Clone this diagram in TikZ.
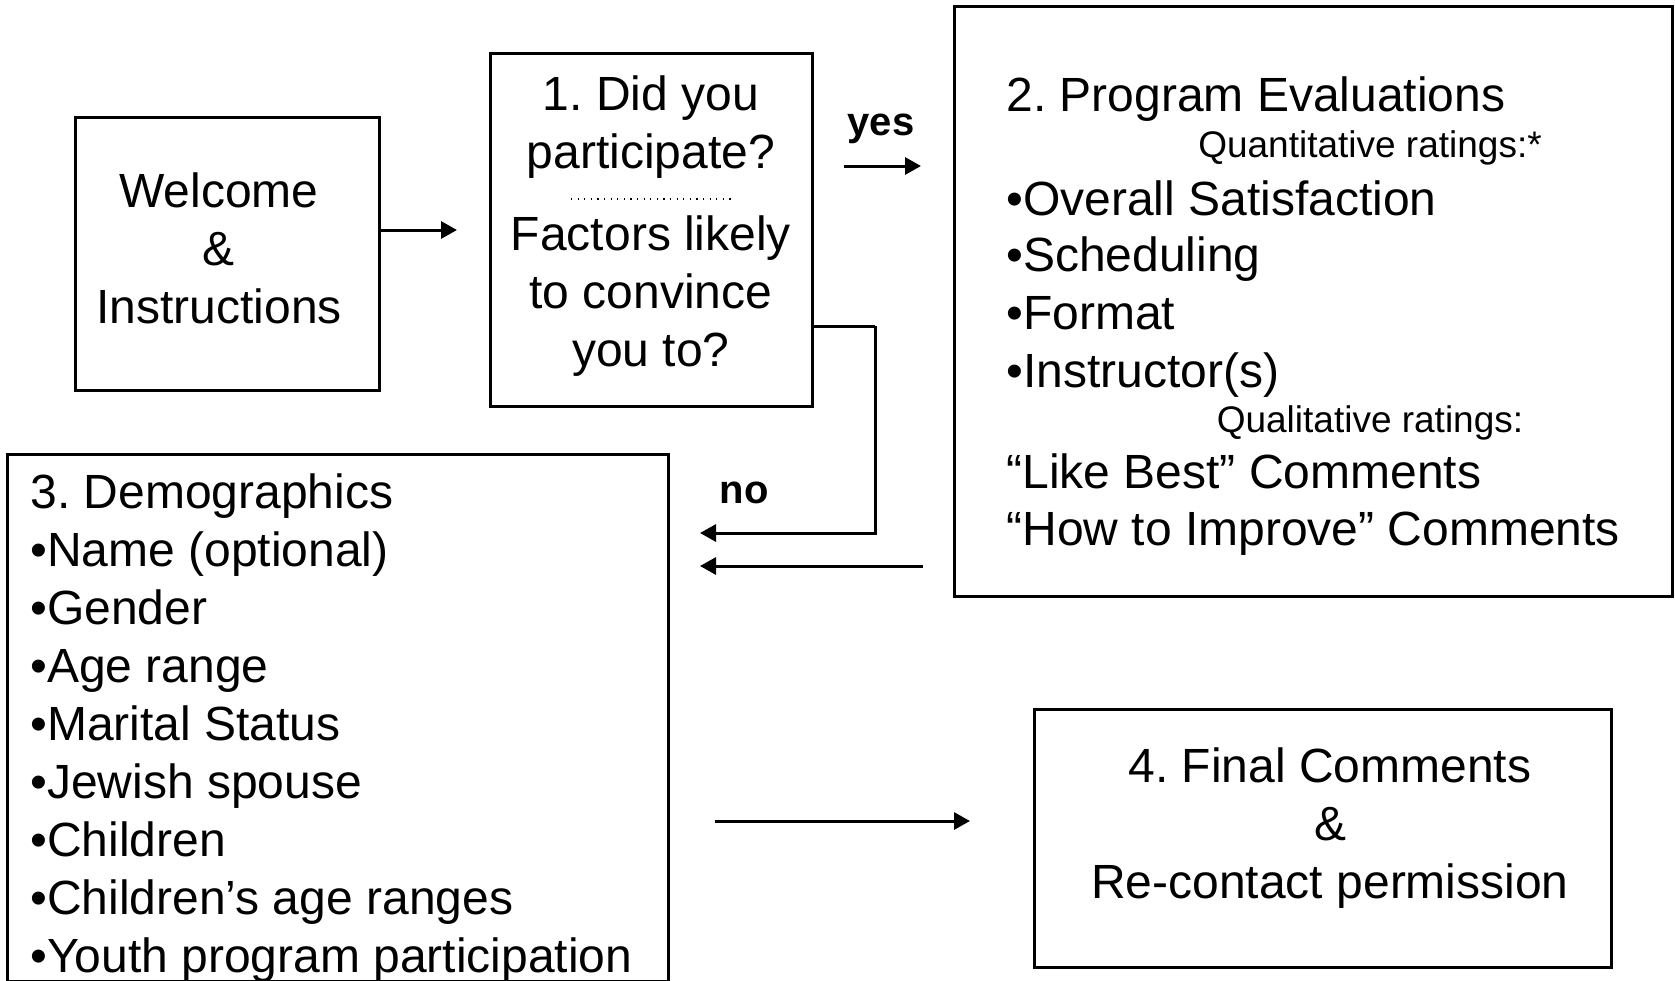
\documentclass[tikz,border=0pt]{standalone}
\usepackage{fontspec}
\setmainfont{Liberation Sans}
\usetikzlibrary{arrows.meta}
\frenchspacing

\begin{document}
\begin{tikzpicture}[x=0.5pt,y=-0.5pt,
  box/.style={draw,line width=1.5pt,inner sep=0pt},
  txt/.style={font=\fontsize{24}{29}\selectfont,inner sep=0pt},
  subtxt/.style={font=\fontsize{18.5}{22}\selectfont,inner sep=0pt},
  lbl/.style={font=\fontsize{20}{24}\selectfont\bfseries,inner sep=0pt},
  arr/.style={line width=1.5pt,-{Triangle[length=8pt,width=8.5pt]}}]
  \useasboundingbox (0,0) rectangle (1675,980);

  % Boxes
  \node[box,minimum width=152pt,minimum height=136.5pt] (welcome) at (227,253.5) {};
  \node[box,minimum width=161pt,minimum height=176.5pt] (q1) at (651,229.5) {};
  \node[box,minimum width=359pt,minimum height=295pt] (eval) at (1313,301) {};
  \node[box,minimum width=330.5pt,minimum height=263.5pt] (demog) at (337.5,717.5) {};
  \node[box,minimum width=288.5pt,minimum height=129pt] (final) at (1322.5,838) {};

  % Box texts
  \node[txt,align=center] (welcometxt) at (219,248) {Welcome\\\&\\Instructions};
  \node[txt,align=center] (q1txt) at (651,226.5)
    {1. Did you\\participate?\\[12pt]Factors likely\\to convince\\you to?};
  \draw[line width=1pt,dash pattern=on 0.6pt off 2.7pt] (571,199) -- (732,199);

  \node[txt,anchor=base west] (ev0) at (1006,111) {2. Program Evaluations};
  \node[subtxt,anchor=base] (ev1) at (1370,157) {Quantitative ratings:*};
  \node[txt,anchor=base west] (ev2) at (1006,215) {•Overall Satisfaction};
  \node[txt,anchor=base west] (ev3) at (1006,271) {•Scheduling};
  \node[txt,anchor=base west] (ev4) at (1006,329) {•Format};
  \node[txt,anchor=base west] (ev5) at (1006,387) {•Instructor(s)};
  \node[subtxt,anchor=base] (ev6) at (1370,432) {Qualitative ratings:};
  \node[txt,anchor=base west] (ev7) at (1006,488) {“Like Best” Comments};
  \node[txt,anchor=base west] (ev8) at (1006,545) {“How to Improve” Comments};

  \node[txt,align=left,anchor=west] (demogtxt) at (30,728)
    {3. Demographics\\•Name (optional)\\•Gender\\•Age range\\•Marital Status\\%
     •Jewish spouse\\•Children\\•Children’s age ranges\\•Youth program participation};

  \node[txt,align=center] (finaltxt) at (1330,828.5)
    {4. Final Comments\\\&\\Re-contact permission};

  % Connectors
  \coordinate (wa) at (457,230);
  \coordinate (ys) at (844,166);
  \coordinate (ye) at (921,166);
  \coordinate (nb) at (875,326);
  \coordinate (ne) at (700,533);
  \coordinate (es) at (923,566);
  \coordinate (ee) at (700,566);
  \coordinate (fs) at (715,821);
  \coordinate (fe) at (970,821);

  \draw[arr] (welcome.east |- wa) -- (wa);
  \draw[arr] (ys) -- (ye);
  \node[lbl,anchor=base] (yes) at (881,135) {yes};
  \draw[line width=1.5pt] (q1.east |- nb) -- (nb);
  \draw[arr] (nb) |- (ne);
  \node[lbl,anchor=base] (no) at (744,503) {no};
  \draw[arr] (es) -- (ee);
  \draw[arr] (fs) -- (fe);
\end{tikzpicture}
\end{document}
